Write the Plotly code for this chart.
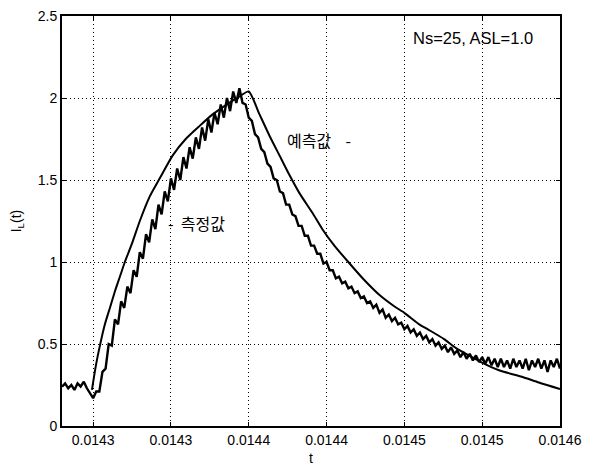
import numpy as np
import plotly.graph_objects as go

# ---- data ----
# predicted (smooth) curve
pred_t = [0.01429923, 0.01430179, 0.01430436, 0.01430756, 0.01431077, 0.01431397,
          0.01431718, 0.01432038, 0.01432487, 0.01433000, 0.01433641, 0.01434282,
          0.01435115, 0.01435949, 0.01436846, 0.01437679, 0.01438577, 0.01439410,
          0.01440000,
          0.01440692, 0.01441333, 0.01441974, 0.01442615, 0.01443256, 0.01444090,
          0.01444731, 0.01445500, 0.01446397, 0.01447423, 0.01448385, 0.01449346,
          0.01450000, 0.01450949, 0.01451590, 0.01452551, 0.01453321, 0.01454154,
          0.01454923, 0.01456077, 0.01457551, 0.01458641, 0.01460000]
pred_i = [0.22, 0.37, 0.49, 0.62, 0.72, 0.82,
          0.91, 1.00, 1.11, 1.25, 1.40, 1.51,
          1.65, 1.75, 1.83, 1.90, 1.96, 2.01,
          2.04,
          1.90, 1.77, 1.65, 1.53, 1.42, 1.30,
          1.20, 1.10, 1.00, 0.89, 0.80, 0.73,
          0.69, 0.62, 0.585, 0.53, 0.475, 0.43,
          0.39, 0.34, 0.30, 0.265, 0.225]

# measured current, sampled every 2 us from 0.01428 s to 0.01460 s
meas_t_start = 0.01428
meas_t_end = 0.01460
meas_i = [
    0.24, 0.26, 0.23, 0.25, 0.22, 0.26, 0.24, 0.27, 0.23,
    0.20, 0.17, 0.21,
    0.21, 0.33, 0.35, 0.50, 0.49, 0.65, 0.62, 0.76, 0.72, 0.85,
    0.81, 0.95, 0.91, 1.06, 1.02, 1.17, 1.12, 1.26, 1.20, 1.35,
    1.29, 1.43, 1.37, 1.51, 1.44, 1.57, 1.50, 1.64, 1.57, 1.70,
    1.63, 1.76, 1.69, 1.82, 1.74, 1.87, 1.79, 1.91, 1.84, 1.96,
    1.88, 2.00, 1.92, 2.04, 1.97, 2.06,
    1.97, 1.96, 1.88, 1.86, 1.78, 1.76, 1.69, 1.67, 1.60, 1.58,
    1.51, 1.50, 1.43, 1.42, 1.35, 1.35, 1.29, 1.28, 1.22, 1.22,
    1.16, 1.16, 1.10, 1.10, 1.05, 1.05, 0.99, 1.00, 0.95, 0.95,
    0.90, 0.91, 0.87, 0.88, 0.84, 0.85, 0.81, 0.82, 0.78, 0.79,
    0.75, 0.76, 0.72, 0.74, 0.69, 0.71, 0.66, 0.68, 0.64, 0.66,
    0.62, 0.63, 0.59, 0.61, 0.57, 0.59, 0.55, 0.57, 0.53, 0.55,
    0.51, 0.53, 0.49, 0.51, 0.47, 0.49, 0.45, 0.48, 0.44, 0.46,
    0.42, 0.45, 0.41, 0.44, 0.40, 0.43, 0.39, 0.42, 0.38, 0.42,
    0.37, 0.41, 0.36, 0.41, 0.36, 0.40, 0.35, 0.41, 0.36, 0.40,
    0.35, 0.41, 0.34, 0.40, 0.36, 0.41, 0.35, 0.40, 0.33, 0.40,
    0.36, 0.41, 0.35,
]
meas_t = np.linspace(meas_t_start, meas_t_end, len(meas_i))

x_tick_vals = [0.01430, 0.01435, 0.01440, 0.01445, 0.01450, 0.01455, 0.01460]
x_tick_text = ["0.0143", "0.0143", "0.0144", "0.0144", "0.0145", "0.0145", "0.0146"]
y_tick_vals = [0, 0.5, 1, 1.5, 2, 2.5]
y_tick_text = ["0", "0.5", "1", "1.5", "2", "2.5"]

FONT = "Liberation Sans, Arial, Noto Sans CJK KR, sans-serif"
KFONT = "Noto Sans CJK KR, Liberation Sans, sans-serif"

fig = go.Figure()
fig.add_trace(go.Scatter(x=meas_t, y=meas_i, mode="lines",
                         line=dict(color="black", width=2.4), showlegend=False))
fig.add_trace(go.Scatter(x=pred_t, y=pred_i, mode="lines",
                         line=dict(color="black", width=2, shape="spline", smoothing=0.6),
                         showlegend=False))

fig.add_annotation(x=0.014544, y=2.366, text="Ns=25, ASL=1.0", showarrow=False,
                   font=dict(family=FONT, size=16.5, color="black"))
fig.add_annotation(x=0.0144454, y=1.744, text="예측값&nbsp;&nbsp;&nbsp;&nbsp;-", showarrow=False,
                   font=dict(family=KFONT, size=16, color="black"))
fig.add_annotation(x=0.0143665, y=1.238, text="-&nbsp;&nbsp;측정값", showarrow=False,
                   font=dict(family=KFONT, size=16, color="black"))

axis_common = dict(showline=True, linecolor="black", linewidth=2, mirror="ticks",
                   ticks="inside", ticklen=4, tickcolor="black", tickwidth=1,
                   showgrid=True, gridcolor="black", gridwidth=1, griddash="1px,3px",
                   zeroline=False, automargin=False, ticklabeloverflow="allow",
                   tickfont=dict(family=FONT, size=14, color="black"))

fig.update_xaxes(range=[0.01428, 0.01460], tickvals=x_tick_vals, ticktext=x_tick_text,
                 title=dict(text="t", font=dict(family=FONT, size=14, color="black"),
                            standoff=6),
                 **axis_common)
fig.update_yaxes(range=[0, 2.5], tickvals=y_tick_vals, ticktext=y_tick_text,
                 title=dict(text="I<sub>L</sub>(t)", font=dict(family=FONT, size=14, color="black"),
                            standoff=18),
                 **axis_common)

# page body has an 8px default margin, so the figure is 8px smaller than the window
fig.update_layout(width=584, height=458, margin=dict(l=54, r=32, t=8, b=40),
                  paper_bgcolor="white", plot_bgcolor="white",
                  font=dict(family=FONT, color="black"))

fig.write_html("out.html")
